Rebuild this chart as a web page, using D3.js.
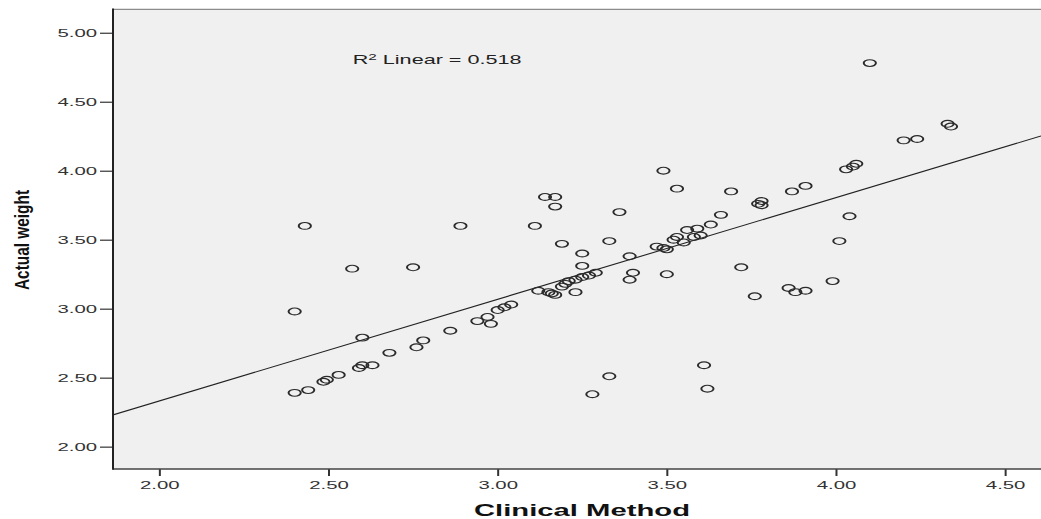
<!DOCTYPE html>
<html>
  <head>
    <meta charset="utf-8">
    <title>Actual weight vs Clinical Method</title>
    <style>
      body {
        margin: 0;
        padding: 0;
        overflow: hidden;
        background: #fff;
      }
      svg {
        display: block;
        font-family: "Liberation Sans", Arial, sans-serif;
      }
    </style>
    <script src="https://cdn.jsdelivr.net/npm/d3@7/dist/d3.min.js"></script>
  </head>
  <body>
    <svg width="1041" height="519"></svg>
    <script>
      // Datos
      const clinicalMethod = [
        2.40, 2.43, 2.40, 2.44, 2.485, 2.495, 2.53, 2.57, 2.60, 2.59,
        2.60, 2.63, 2.68, 2.75, 2.76, 2.78, 2.86, 2.89, 2.94, 2.97,
        2.98, 3.00, 3.02, 3.04, 3.11, 3.14, 3.17, 3.17, 3.12, 3.15,
        3.16, 3.17, 3.19, 3.20, 3.21, 3.23, 3.23, 3.25, 3.27, 3.29,
        3.25, 3.25, 3.19, 3.33, 3.36, 3.39, 3.40, 3.39, 3.50, 3.33,
        3.28, 3.61, 3.62, 3.49, 3.53, 3.47, 3.49, 3.50, 3.52, 3.53,
        3.55, 3.56, 3.59, 3.58, 3.60, 3.63, 3.66, 3.69, 3.72, 3.76,
        3.77, 3.78, 3.78, 3.87, 3.91, 3.86, 3.88, 3.91, 3.99, 4.01,
        4.04, 4.03, 4.05, 4.06, 4.10, 4.20, 4.24, 4.33, 4.34
      ];
      const actualWeight = [
        2.98, 3.60, 2.39, 2.41, 2.47, 2.485, 2.52, 3.29, 2.79, 2.57,
        2.59, 2.59, 2.68, 3.30, 2.72, 2.77, 2.84, 3.60, 2.91, 2.94,
        2.89, 2.99, 3.01, 3.03, 3.60, 3.81, 3.81, 3.74, 3.13, 3.12,
        3.11, 3.10, 3.16, 3.18, 3.20, 3.21, 3.12, 3.23, 3.24, 3.26,
        3.31, 3.40, 3.47, 3.49, 3.70, 3.38, 3.26, 3.21, 3.25, 2.51,
        2.38, 2.59, 2.42, 4.00, 3.87, 3.45, 3.44, 3.43, 3.50, 3.52,
        3.48, 3.57, 3.58, 3.52, 3.53, 3.61, 3.68, 3.85, 3.30, 3.09,
        3.76, 3.78, 3.75, 3.85, 3.89, 3.15, 3.12, 3.13, 3.20, 3.49,
        3.67, 4.01, 4.03, 4.05, 4.78, 4.22, 4.23, 4.34, 4.32
      ];
      const xTicks = [2.0, 2.5, 3.0, 3.5, 4.0, 4.5];
      const yTicks = [2.0, 2.5, 3.0, 3.5, 4.0, 4.5, 5.0];
      const fitIntercept = 0.857; // recta de ajuste lineal
      const fitSlope = 0.737;
      const r2Value = '0.518';
      const xTitle = 'Clinical Method';
      const yTitle = 'Actual weight';

      const svg = d3.select('svg');
      const stretch = 1.85; // el original esta estirado en horizontal

      // Area del grafico
      const plotLeft = 113, plotTop = 9.3, plotBottom = 469, plotRight = 1041;
      const x = d3.scaleLinear().domain([1.863, 4.606]).range([plotLeft, plotRight]);
      const y = d3.scaleLinear().domain([1.838, 5.17]).range([plotBottom, plotTop]);

      svg.append('rect')
        .attr('x', plotLeft).attr('y', plotTop)
        .attr('width', 960).attr('height', plotBottom - plotTop)
        .attr('fill', '#f0f0f0');

      svg.append('clipPath').attr('id', 'plot')
        .append('rect')
        .attr('x', plotLeft).attr('y', plotTop)
        .attr('width', plotRight - plotLeft).attr('height', plotBottom - plotTop);

      const plot = svg.append('g').attr('clip-path', 'url(#plot)');

      // Recta de regresion
      const xd = x.domain();
      plot.append('line')
        .attr('x1', x(xd[0])).attr('y1', y(fitIntercept + fitSlope * xd[0]))
        .attr('x2', x(xd[1])).attr('y2', y(fitIntercept + fitSlope * xd[1]))
        .attr('stroke', '#222')
        .attr('stroke-width', 1.1);

      // Puntos
      plot.selectAll('circle')
        .data(d3.range(clinicalMethod.length))
        .enter()
        .append('circle')
        .attr('r', 3.4)
        .attr('transform', (i) => `translate(${x(clinicalMethod[i])},${y(actualWeight[i])}) scale(1.8,1)`)
        .attr('fill', 'none')
        .attr('stroke', '#2b2b2b')
        .attr('stroke-width', 1.1);

      // Bordes
      svg.append('line')
        .attr('x1', plotLeft).attr('x2', plotRight + 5)
        .attr('y1', plotTop).attr('y2', plotTop)
        .attr('stroke', '#8c8c8c').attr('stroke-width', 1.3);

      // Eje Y
      const yAxis = svg.append('g')
        .attr('transform', `translate(${plotLeft},0)`)
        .call(d3.axisLeft(y).tickValues(yTicks).tickFormat(d3.format('.2f')).tickSizeInner(13).tickSizeOuter(0));
      yAxis.select('.domain').remove();
      yAxis.selectAll('.tick line').attr('stroke', '#333').attr('stroke-width', 1.2);
      yAxis.selectAll('.tick text')
        .attr('x', null).attr('dy', '0.36em')
        .attr('transform', `translate(-16,0) scale(${stretch},1)`)
        .attr('font-size', 11)
        .attr('fill', '#333')
        .attr('font-family', '"Liberation Sans", Arial, sans-serif');

      // Eje X
      const xAxis = svg.append('g')
        .attr('transform', `translate(0,${plotBottom})`)
        .call(d3.axisBottom(x).tickValues(xTicks).tickFormat(d3.format('.2f')).tickSizeInner(7).tickSizeOuter(0));
      xAxis.select('.domain').remove();
      xAxis.selectAll('.tick line').attr('stroke', '#333').attr('stroke-width', 2);
      xAxis.selectAll('.tick text')
        .attr('y', null).attr('dy', null)
        .attr('transform', `translate(0,20) scale(${stretch},1)`)
        .attr('font-size', 11)
        .attr('fill', '#333')
        .attr('font-family', '"Liberation Sans", Arial, sans-serif');

      svg.append('line')
        .attr('x1', plotLeft).attr('x2', plotRight + 5)
        .attr('y1', plotBottom).attr('y2', plotBottom)
        .attr('stroke', '#444').attr('stroke-width', 1.4);
      svg.append('line')
        .attr('x1', plotLeft).attr('x2', plotLeft)
        .attr('y1', plotTop - 0.7).attr('y2', plotBottom + 0.7)
        .attr('stroke', '#222').attr('stroke-width', 2);

      // Texto R2
      const r2 = svg.append('text')
        .attr('transform', `translate(352.7,64) scale(1.8,1)`)
        .attr('font-size', 12)
        .attr('fill', '#222');
      r2.append('tspan').text('R');
      r2.append('tspan').attr('font-size', 8.5).attr('dy', -4.5).text('2');
      r2.append('tspan').attr('dy', 4.5).text(' Linear = ' + r2Value);

      // Titulos de los ejes
      svg.append('text')
        .attr('transform', `translate(582,516) scale(1.72,1)`)
        .attr('text-anchor', 'middle')
        .attr('font-size', 17)
        .attr('font-weight', 'bold')
        .attr('fill', '#111')
        .text(xTitle);

      svg.append('text')
        .attr('transform', `translate(28.7,240) scale(1.34,1) rotate(-90)`)
        .attr('text-anchor', 'middle')
        .attr('font-size', 15.4)
        .attr('font-weight', 'bold')
        .attr('fill', '#111')
        .text(yTitle);
    </script>
  </body>
</html>
